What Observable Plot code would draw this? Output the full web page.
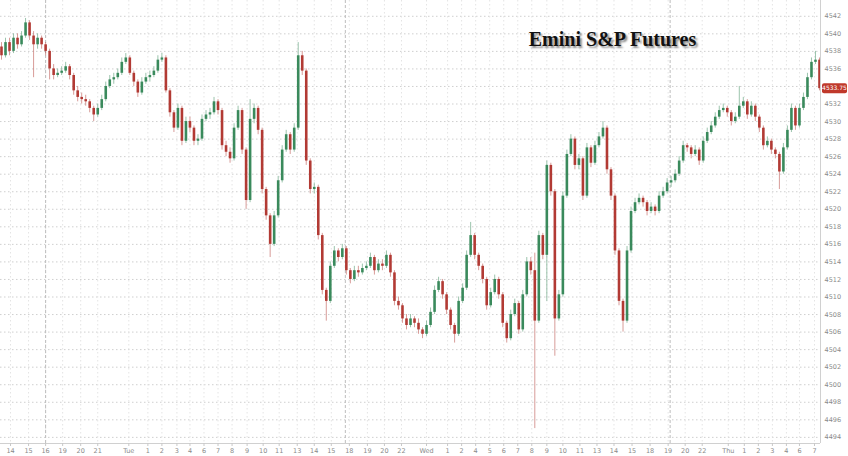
<!DOCTYPE html>
<html>
<head>
<meta charset="utf-8">
<script src="https://cdn.jsdelivr.net/npm/d3@7"></script>
<script src="https://cdn.jsdelivr.net/npm/@observablehq/plot@0.6"></script>
<style>
  html, body { margin: 0; padding: 0; background: #fff; }
  #chart { width: 848px; height: 456px; overflow: hidden; }
  .title-shadow text { text-shadow: 2px 2px 2px rgba(0,0,0,0.45); }
</style>
</head>
<body>
<div id="chart"></div>
<script>
const title = "Emini S&P Futures";
const lastPrice = 4533.75;

const opens = [4538.5,4537.5,4539,4538,4539.5,4538.75,4539.75,4541.25,4539.75,4538.75,
4539.5,4538.75,4538,4536,4535.25,4535.5,4535.75,4536.25,4535.25,4533.5,
4532.75,4532.5,4532.25,4531.5,4530.75,4531.5,4532.5,4534,4534.75,4535,
4535.5,4536.75,4537.25,4535.5,4534.5,4533.25,4534.5,4535,4535.25,4535.75,
4537,4537.25,4533.5,4531,4529.25,4531.5,4527.75,4530,4529.25,4527.75,
4528,4530.25,4530.75,4531,4532.25,4531.25,4527.25,4526.5,4525.75,4529.25,
4531.25,4526.75,4521,4530.25,4531.5,4529,4522.25,4519.25,4516,4519.25,
4523.25,4526.75,4528.5,4526.75,4529.25,4537.5,4535.75,4525.5,4522.25,4522.5,
4517,4510.75,4509.5,4513.5,4515.25,4514.5,4515.5,4513,4512,4513,
4512.75,4513.25,4513.5,4514.5,4513,4513.75,4513.5,4514.75,4512.75,4509.5,
4509,4507.5,4506.75,4507.5,4507,4506.25,4505.75,4506.75,4508.25,4510.75,
4511.75,4510.25,4508.5,4506.75,4505.75,4509.5,4511,4514.75,4517,4514.75,
4513.5,4512,4509,4510.5,4512,4510.25,4507,4505.25,4508,4509.25,
4506.25,4510.25,4514,4513,4507.25,4517,4514.75,4525,4522,4507.5,
4510.25,4521.5,4526.25,4528,4525,4525.75,4521.5,4527,4525.25,4527.25,
4528.25,4529.25,4524.5,4521.5,4515.25,4509.5,4507.25,4515.25,4519.75,4520.75,
4521.25,4520.75,4519.75,4520.25,4519.75,4521.5,4522,4523,4523.25,4524,
4525.5,4527.25,4527,4526.25,4526.75,4525.5,4527.75,4528.75,4529.5,4530.5,
4531.25,4531.5,4531,4530,4530.5,4531.75,4532.25,4530.75,4531.75,4530.5,
4529.25,4527.25,4527.75,4526.75,4526.25,4524.25,4527,4529,4531.5,4529.5,
4531.5,4532.75,4535,4536.75,4537];

const highs = [4539,4539.5,4539.5,4540,4540,4540.25,4541.75,4541.5,4540.25,4540,
4539.75,4539,4538.25,4536.5,4536,4536.25,4536.75,4536.5,4535.5,4534,
4533.25,4533,4532.5,4531.75,4532,4533,4534.5,4535.25,4535.5,4536,
4537.25,4537.75,4537.5,4535.75,4534.75,4535,4535.5,4535.75,4536.25,4537.5,
4537.75,4537.5,4533.75,4531.25,4532,4531.75,4530.5,4530.5,4529.5,4528.5,
4530.75,4531.25,4531.5,4532.75,4532.5,4531.5,4527.75,4527,4529.75,4531.75,
4531.5,4527,4532.5,4532,4531.75,4529.25,4522.5,4519.5,4519.75,4523.75,
4527.25,4529,4528.75,4529.75,4539,4538,4536,4525.75,4523,4522.75,
4517.25,4511,4514,4515.75,4515.5,4516,4515.75,4513.25,4513.5,4513.5,
4513.75,4514,4515,4514.75,4514.25,4514.25,4515.25,4515,4513,4510,
4509.25,4508,4508,4507.75,4507.5,4506.5,4507.25,4508.75,4511.25,4512.25,
4512,4510.5,4508.75,4507,4510,4511.5,4515.25,4518.5,4517.25,4515,
4513.75,4512.25,4511,4512.5,4512.25,4510.5,4507.25,4508.5,4509.75,4509.5,
4510.75,4514.5,4514.5,4515,4517.5,4517.25,4525.5,4525.25,4522.25,4510.75,
4522,4526.75,4528.5,4528.25,4526.25,4526,4527.5,4527.25,4527.75,4528.75,
4530,4529.5,4524.75,4521.75,4515.5,4509.75,4515.75,4520.25,4521.25,4521.75,
4521.5,4521,4520.75,4520.5,4522,4522.5,4523.5,4523.75,4524.5,4526,
4527.75,4527.5,4527.25,4527.25,4527,4528.25,4529.25,4530,4531,4531.75,
4532,4531.75,4531.25,4531,4534,4532.75,4532.5,4532.25,4532,4530.75,
4529.5,4528.25,4528,4527,4526.5,4527.5,4529.5,4532,4531.75,4532,
4533.25,4535.5,4537.25,4538,4537.25];

const lows = [4537,4537.25,4537.5,4537.75,4538.25,4538.5,4539.5,4539.25,4535,4538.25,
4538.25,4537.5,4534.75,4534.75,4535,4535.25,4535.5,4534.75,4533,4532.25,
4532,4531.75,4531,4530,4530.5,4531.25,4532.25,4533.75,4534.25,4534.75,
4535.25,4536.5,4535.25,4534,4532.75,4533,4534.25,4534.5,4535,4535.5,
4536.75,4533.25,4530.5,4528.75,4529,4527.25,4527.5,4528.75,4527.25,4527.25,
4527.75,4530,4530.25,4530.75,4530.75,4526.75,4526,4525.25,4525.5,4529,
4526.25,4520,4520.75,4529.75,4528.5,4521.75,4518.75,4514.5,4515.75,4519,
4523,4526.5,4526.25,4526.5,4529,4535.25,4525,4521.75,4521.75,4516.5,
4510.25,4507.25,4509.25,4513.25,4514,4514.25,4512.5,4511.5,4511.75,4512.25,
4512.5,4513,4513.25,4512.5,4512.75,4513,4513.25,4512.25,4509,4508.5,
4507,4506.25,4506.5,4506.5,4505.75,4505.25,4505.5,4506.5,4508,4510.5,
4509.75,4508,4506.25,4504.75,4505.5,4509.25,4510.75,4514.5,4514.25,4513,
4511.5,4508.5,4508.75,4510.25,4509.75,4506.5,4504.75,4505,4507.75,4505.75,
4506,4510,4512.5,4495,4507,4514.25,4509.5,4521.5,4503.25,4507.25,
4510,4521.25,4526,4524.5,4524.5,4521,4521.25,4524.75,4525,4527,
4528,4524,4521,4514.75,4509,4506,4507,4515,4519.5,4520.5,
4520.25,4519.25,4519.5,4519.25,4519.5,4521.25,4521.75,4522.5,4523,4523.75,
4525.25,4526.5,4525.75,4526,4525,4525.25,4527.5,4528.5,4529.25,4530.25,
4531,4530.5,4529.5,4529.75,4530.25,4531.5,4530.25,4530.5,4530,4528.75,
4526.75,4527,4526.25,4525.75,4522.25,4524,4526.75,4528.75,4529,4529.25,
4531.25,4532.5,4534.75,4536.5,4533.5];

const closes = [4537.5,4539,4538,4539.5,4538.75,4539.75,4541.25,4539.75,4538.75,4539.5,
4538.75,4538,4536,4535.25,4535.5,4535.75,4536.25,4535.25,4533.5,4532.75,
4532.5,4532.25,4531.5,4530.75,4531.5,4532.5,4534,4534.75,4535,4535.5,
4536.75,4537.25,4535.5,4534.5,4533.25,4534.5,4535,4535.25,4535.75,4537,
4537.25,4533.5,4531,4529.25,4531.5,4527.75,4530,4529.25,4527.75,4528,
4530.25,4530.75,4531,4532.25,4531.25,4527.25,4526.5,4525.75,4529.25,4531.25,
4526.75,4521,4530.25,4531.5,4529,4522.25,4519.25,4516,4519.25,4523.25,
4526.75,4528.5,4526.75,4529.25,4537.5,4535.75,4525.5,4522.25,4522.5,4517,
4510.75,4509.5,4513.5,4515.25,4514.5,4515.5,4513,4512,4513,4512.75,
4513.25,4513.5,4514.5,4513,4513.75,4513.5,4514.75,4512.75,4509.5,4509,
4507.5,4506.75,4507.5,4507,4506.25,4505.75,4506.75,4508.25,4510.75,4511.75,
4510.25,4508.5,4506.75,4505.75,4509.5,4511,4514.75,4517,4514.75,4513.5,
4512,4509,4510.5,4512,4510.25,4507,4505.25,4508,4509.25,4506.25,
4510.25,4514,4513,4507.25,4517,4514.75,4525,4522,4507.5,4510.25,
4521.5,4526.25,4528,4525,4525.75,4521.5,4527,4525.25,4527.25,4528.25,
4529.25,4524.5,4521.5,4515.25,4509.5,4507.25,4515.25,4519.75,4520.75,4521.25,
4520.75,4519.75,4520.25,4519.75,4521.5,4522,4523,4523.25,4524,4525.5,
4527.25,4527,4526.25,4526.75,4525.5,4527.75,4528.75,4529.5,4530.5,4531.25,
4531.5,4531,4530,4530.5,4531.75,4532.25,4530.75,4531.75,4530.5,4529.25,
4527.25,4527.75,4526.75,4526.25,4524.25,4527,4529,4531.5,4529.5,4531.5,
4532.75,4535,4536.75,4537,4533.75];

// x tick labels (hours) and the candle index where each falls
const xTickLabels = ["14","15","16","19","20","21","Tue","1","2","3","4","6","7","8","9","10","11","13","14","15","18","19","20","22",
  "Wed","1","2","4","5","6","7","8","9","10","11","13","14","15","18","19","20","22",
  "Thu","1","2","3","4","6","7"];
const xTickIndex = [2.25,6.75,11,15.25,19.75,24,31.75,36.5,40,43.75,47,50.5,54,57.5,61.25,65.25,69.25,73.75,78,82.25,86.75,91.25,95.5,99.75,
  106,111.25,114.75,118.25,121.75,125.25,128.75,132.25,136,140,144.25,148.5,152.75,157.25,161.75,166.25,170.5,174.75,
  181.25,185.25,188.75,192.25,195.75,199,202.75];
const sessionBreaks = [11, 85.75, 166.75];
const yTicks = d3.range(4494, 4543, 2);
// the price tag covers the tick label nearest to it
const yTickLabels = yTicks.filter(v => Math.abs(v - lastPrice) > 1);

const yDomain = [4493.3, 4543.8];
const xDomain = [-0.25, opens.length - 0.75];

const data = opens.map((o, i) => ({i, o, h: highs[i], l: lows[i], c: closes[i]}));

const upColor = "#3a8a5c";
const downColor = "#b23a34";
const col = d => d.c >= d.o ? upColor : downColor;

const plot = Plot.plot({
  width: 848,
  height: 456,
  marginLeft: 0,
  marginRight: 28,
  marginTop: 0,
  marginBottom: 13,
  style: {fontFamily: "'DejaVu Sans', sans-serif", background: "#fff"},
  x: {domain: xDomain, axis: null},
  y: {domain: yDomain, axis: null},
  marks: [
    Plot.gridY(yTicks, {stroke: "#cfcfcf", strokeOpacity: 1, strokeDasharray: "1.5,2.5"}),
    Plot.gridX(xTickIndex, {stroke: "#e4e4e4", strokeOpacity: 1, strokeDasharray: "1.5,2.5"}),
    Plot.ruleX(sessionBreaks, {stroke: "#bdbdbd", strokeDasharray: "3,2", strokeWidth: 1}),
    Plot.ruleX(data, {x: "i", y1: "l", y2: "h", stroke: col, strokeOpacity: 0.5, strokeWidth: 1}),
    Plot.ruleX(data, {x: "i", y1: "o", y2: "c", stroke: col, strokeWidth: 2.6}),
    Plot.ruleX([xDomain[1]], {stroke: "#d0d0d0"}),
    Plot.ruleY([yDomain[0]], {stroke: "#d0d0d0"}),
    Plot.axisY(yTickLabels, {anchor: "right", tickSize: 0, tickPadding: 4, fontSize: 6.5, fill: "#8a8a8a", label: null,
      tickFormat: d3.format("d")}),
    Plot.axisX(xTickIndex, {anchor: "bottom", tickSize: 3, tickPadding: 2, fontSize: 6.5, fill: "#8a8a8a", stroke: "#c8c8c8",
      tickFormat: (d, k) => xTickLabels[k], label: null}),
    Plot.text([title], {frameAnchor: "top-left", dx: 612, dy: 31, text: d => d, fontFamily: "'Liberation Serif', serif",
      fontWeight: "bold", fontSize: 20, fill: "#111", textAnchor: "middle", className: "title-shadow"})
  ]
});

// current price tag on the right axis
const svg = d3.select(plot);
const yPos = plot.scale("y").apply(lastPrice);
const xPos = plot.scale("x").apply(xDomain[1]);
const tag = svg.append("g");
tag.append("rect").attr("x", xPos + 2).attr("y", yPos - 5).attr("width", 25).attr("height", 10)
  .attr("rx", 2).attr("fill", "#c0392b");
tag.append("text").attr("x", xPos + 14.5).attr("y", yPos).attr("dy", "0.35em")
  .attr("text-anchor", "middle").attr("fill", "#fff").attr("font-size", 6)
  .attr("font-family", "'DejaVu Sans', sans-serif").text(lastPrice.toFixed(2));

document.getElementById("chart").appendChild(plot);
</script>
</body>
</html>
